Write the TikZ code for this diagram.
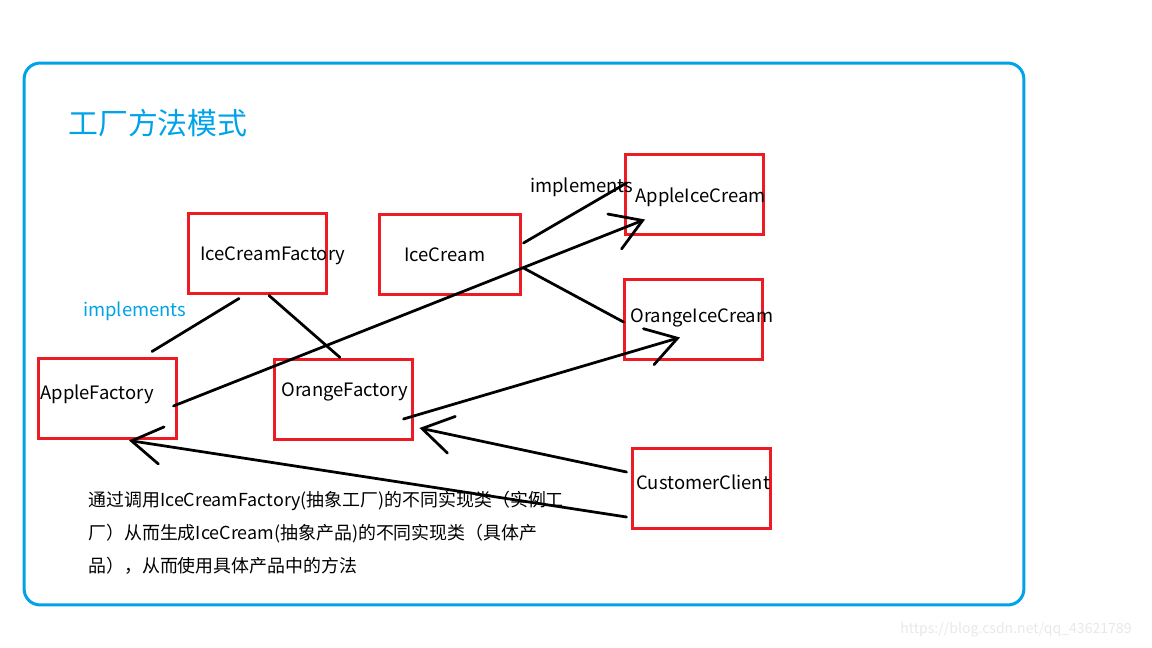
\documentclass[tikz,border=0pt]{standalone}
\usepackage{fontspec}
\setmainfont{Noto Sans CJK SC}
\usetikzlibrary{arrows.meta,calc}
\definecolor{skyb}{RGB}{0,162,232}
\definecolor{pred}{RGB}{237,28,36}
\definecolor{wm}{RGB}{232,232,232}
\tikzset{
  box/.style={draw=pred, line width=0.06cm, minimum width=2.78cm, minimum height=1.62cm, inner sep=0pt},
  lbl/.style={anchor=west, inner sep=0pt, font=\fontsize{10.5pt}{12pt}\selectfont},
  conn/.style={draw=black, line width=0.055cm, line cap=round},
  arr/.style={conn, -{Straight Barb[length=0.6cm, width=0.75cm, line cap=round]}},
  desc/.style={anchor=west, inner sep=0pt, font=\fontsize{10.2pt}{13pt}\selectfont},
}
\begin{document}
\begin{tikzpicture}[x=0.02cm, y=-0.02cm]
\useasboundingbox (0,0) rectangle (1152,648);
\node[draw=skyb, line width=0.06cm, rounded corners=0.32cm, minimum width=20cm, minimum height=10.84cm, inner sep=0pt] (frame) at (524,334) {};
\node[anchor=west, inner sep=0pt, text=skyb, font=\fontsize{17pt}{20pt}\selectfont] (title) at (68,123) {工厂方法模式};

\node[box] (icf) at (257.5,253.5) {};
\node[box, minimum width=2.84cm] (ic) at (450,254.5) {};
\node[box] (aic) at (694.5,194.5) {};
\node[box] (oic) at (693.5,319.5) {};
\node[box] (af) at (107.5,398.5) {};
\node[box] (of) at (343.5,399.5) {};
\node[box] (cc) at (701.5,488.5) {};

\node[lbl] (licf) at (200,256) {IceCreamFactory};
\node[lbl] (lic) at (404,255) {IceCream};
\node[lbl] (laic) at (635,197) {AppleIceCream};
\node[lbl] (loic) at (630,318) {OrangeIceCream};
\node[lbl] (laf) at (40,394) {AppleFactory};
\node[lbl] (lof) at (281,392) {OrangeFactory};
\node[lbl] (lcc) at (636,482) {CustomerClient};

\node[lbl] (imp1) at (530,187) {implements};
\node[lbl, text=skyb] (imp2) at (83,311) {implements};

\draw[conn] ($(icf.south)+(-18.5,3)$) -- ($(af.north)+(44.5,-5)$);
\draw[conn] ($(icf.south)+(11.5,0)$) -- ($(of.north)+(-3.5,0)$);
\draw[conn] ($(ic.east)+(1,-11.5)$) -- ($(aic.west)+(3,-11.5)$);
\draw[conn] ($(ic.east)+(1,13.5)$) -- ($(oic.west)+(1,2.5)$);

\draw[arr] ($(af.east)+(-5,7.5)$) -- ($(aic.south)+(-49.5,-17)$);
\draw[arr] ($(of.east)+(-11,19.5)$) -- ($(oic.south)+(-13.5,-24)$);
\draw[arr] ($(cc.west)+(-4,-16.5)$) -- ($(of.east)+(5,28.5)$);
\draw[arr] ($(cc.west)+(-4,28.5)$) -- ($(af.south)+(21.5,0)$);

\node[desc] (d1) at (88,501) {通过调用IceCreamFactory(抽象工厂)的不同实现类（实例工};
\node[desc] (d2) at (88,534) {厂）从而生成IceCream(抽象产品)的不同实现类（具体产};
\node[desc] (d3) at (88,566) {品），从而使用具体产品中的方法};

\node[anchor=west, inner sep=0pt, text=wm, font=\fontsize{8pt}{10pt}\selectfont] (wmk) at (900,630) {https://blog.csdn.net/qq\_43621789};
\end{tikzpicture}
\end{document}
